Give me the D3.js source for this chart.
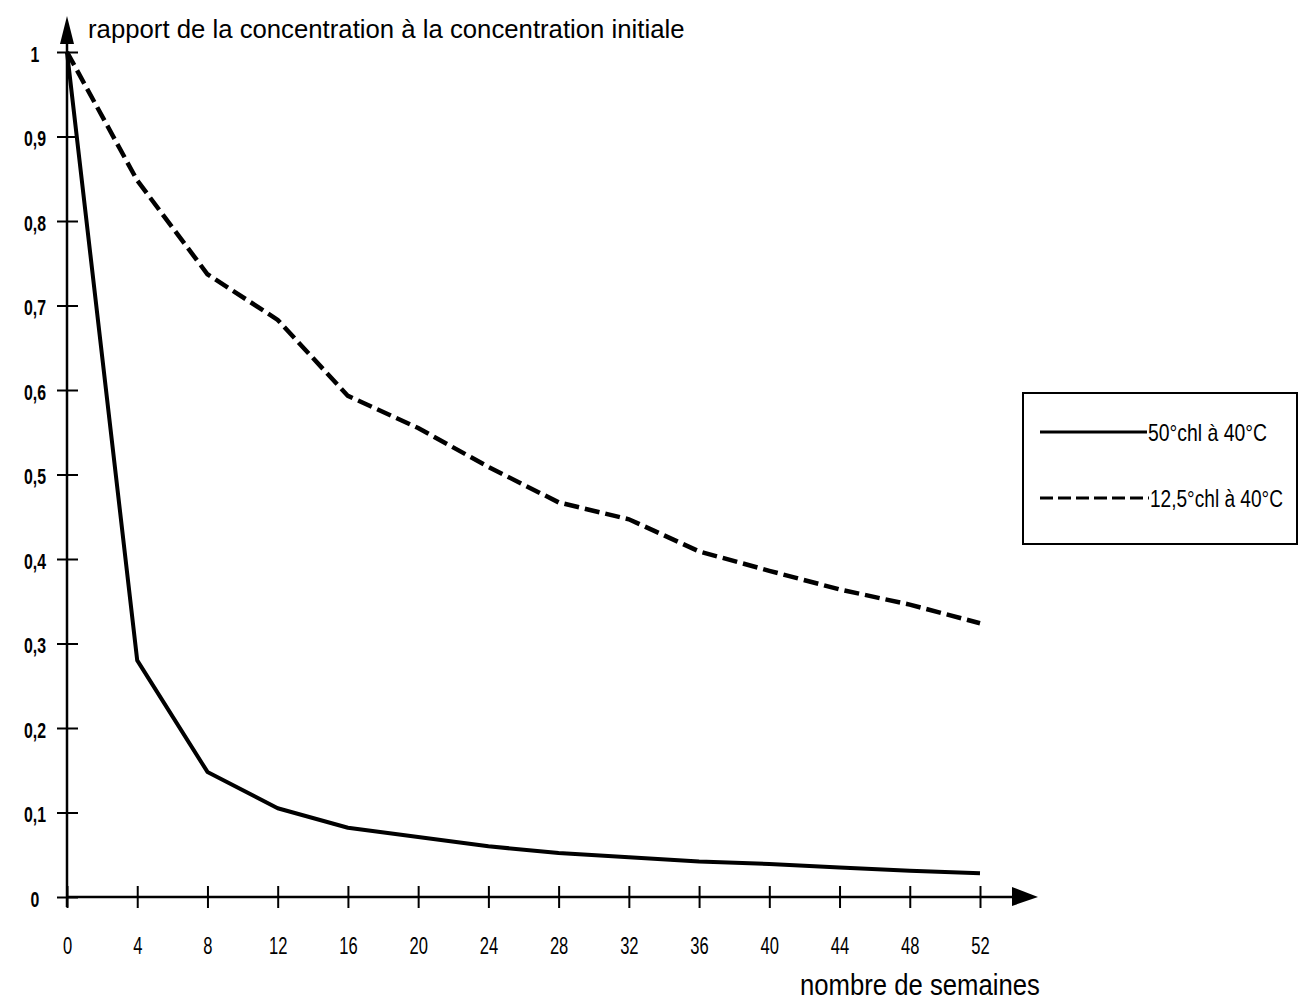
<!DOCTYPE html>
<html><head><meta charset="utf-8">
<script src="https://cdn.jsdelivr.net/npm/d3@7"></script>
<style>html,body{margin:0;padding:0;background:#fff;}svg{display:block;}</style>
</head><body>
<svg id="c" width="1299" height="1001"></svg>
<script>
const weeks = [0,4,8,12,16,20,24,28,32,36,40,44,48,52];
const serie50 = [1,0.28,0.148,0.105,0.082,0.071,0.060,0.052,0.047,0.042,0.039,0.035,0.031,0.028];
const serie125 = [1,0.848,0.737,0.683,0.593,0.555,0.509,0.467,0.447,0.409,0.386,0.364,0.346,0.324];
const yTicks = [0,0.1,0.2,0.3,0.4,0.5,0.6,0.7,0.8,0.9,1];
const yLabels = ["0","0,1","0,2","0,3","0,4","0,5","0,6","0,7","0,8","0,9","1"];
const legendLabels = ["50°chl à 40°C","12,5°chl à 40°C"];
const titleY = "rapport de la concentration à la concentration initiale";
const titleX = "nombre de semaines";

const svg = d3.select("#c");
const font = "'Liberation Sans Narrow','Arial Narrow','Liberation Sans',sans-serif";
const x = d3.scaleLinear().domain([0,52]).range([67,980]);
const y = d3.scaleLinear().domain([0,1]).range([897,52]);
const sx = 0.72;

// axes lines
svg.append("line").attr("x1",x(0)).attr("x2",1018).attr("y1",y(0)).attr("y2",y(0)).attr("stroke","#000").attr("stroke-width",2.5);
svg.append("line").attr("x1",x(0)).attr("x2",x(0)).attr("y1",y(0)+10).attr("y2",38).attr("stroke","#000").attr("stroke-width",2.5);
// arrows
svg.append("path").attr("d",`M${x(0)-7},44 L${x(0)},16 L${x(0)+7},44 Z`).attr("fill","#000");
svg.append("path").attr("d",`M1012,${y(0)-10} L1038,${y(0)} L1012,${y(0)+9} Z`).attr("fill","#000");

// x axis ticks via d3 axis
const xAxis = d3.axisBottom(x).tickValues(weeks).tickFormat(d=>d).tickSizeInner(12).tickSizeOuter(0);
const gx = svg.append("g").attr("transform",`translate(0,${y(0)})`).call(xAxis);
gx.select(".domain").remove();
gx.selectAll(".tick line").attr("y1",-11).attr("y2",11).attr("stroke","#000").attr("stroke-width",2);
gx.selectAll(".tick text").attr("y",0).attr("dy",57).attr("transform",`scale(${sx},1)`)
  .attr("font-family",font).attr("font-size",23).attr("fill","#000");

const yAxis = d3.axisLeft(y).tickValues(yTicks).tickFormat((d,i)=>yLabels[i]).tickSizeInner(10).tickSizeOuter(0);
const gy = svg.append("g").attr("transform",`translate(${x(0)},0)`).call(yAxis);
gy.select(".domain").remove();
gy.selectAll(".tick line").attr("x1",-10).attr("x2",11).attr("stroke","#000").attr("stroke-width",2);
gy.selectAll(".tick text").attr("x",-32/sx).attr("text-anchor","middle").attr("dy","0.42em").attr("transform",`scale(${sx},1)`)
  .attr("font-family",font).attr("font-size",22).attr("font-weight","bold").attr("fill","#000");

// series
const line = d3.line().x(d=>x(d[0])).y(d=>y(d[1]));
svg.append("path").datum(weeks.map((w,i)=>[w,serie125[i]])).attr("d",line)
  .attr("fill","none").attr("stroke","#000").attr("stroke-width",4.5).attr("stroke-dasharray","15,6");
svg.append("path").datum(weeks.map((w,i)=>[w,serie50[i]])).attr("d",line)
  .attr("fill","none").attr("stroke","#000").attr("stroke-width",4).attr("stroke-linejoin","round");

// helper: squeeze text horizontally to a target width
function fitText(sel, x0, yb, fs, target){
  sel.attr("font-family",font).attr("font-size",fs).attr("x",0).attr("y",0);
  const len = sel.node().getComputedTextLength();
  sel.attr("transform",`translate(${x0},${yb}) scale(${target/len},1)`);
}

// titles
fitText(svg.append("text").text(titleY), 88, 38, 25, 597);
fitText(svg.append("text").text(titleX), 800, 995, 29, 240);

// legend
const lg = svg.append("g");
lg.append("rect").attr("x",1023).attr("y",393).attr("width",274).attr("height",151).attr("fill","#fff").attr("stroke","#000").attr("stroke-width",2);
lg.append("line").attr("x1",1040).attr("x2",1147).attr("y1",432).attr("y2",432).attr("stroke","#000").attr("stroke-width",3);
lg.append("line").attr("x1",1040).attr("x2",1149).attr("y1",498).attr("y2",498).attr("stroke","#000").attr("stroke-width",3).attr("stroke-dasharray","13,5");
fitText(lg.append("text").text(legendLabels[0]), 1148, 441, 23, 119);
fitText(lg.append("text").text(legendLabels[1]), 1150, 507, 23, 133);
</script>
</body></html>
